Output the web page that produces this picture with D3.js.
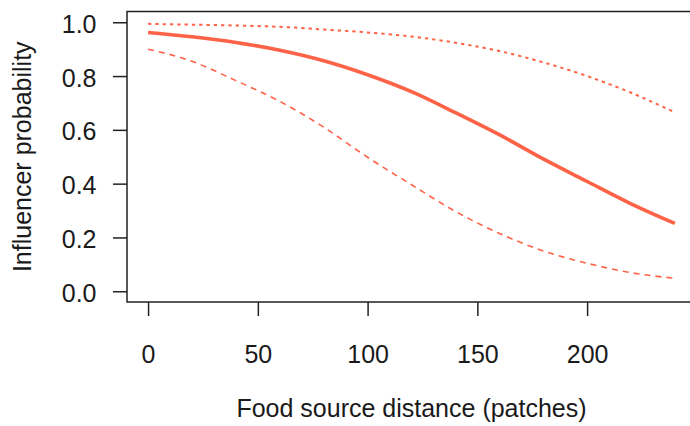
<!DOCTYPE html>
<html>
<head>
<meta charset="utf-8">
<script src="https://cdn.jsdelivr.net/npm/d3@7"></script>
<style>
  html, body { margin: 0; padding: 0; background: #fff; overflow: hidden; }
  svg { display: block; font-family: "Liberation Sans", Arial, sans-serif; }
</style>
</head>
<body>
<script>
// Food source distance (patches)
const distance = [0, 20, 40, 60, 80, 100, 120, 140, 160, 180, 200, 220, 240];
// fitted influencer probability
const fitted = [0.962, 0.946, 0.925, 0.896, 0.857, 0.805, 0.742, 0.664, 0.582, 0.492, 0.408, 0.325, 0.252];
// upper and lower confidence bands
const upper = [0.994, 0.991, 0.988, 0.983, 0.973, 0.962, 0.947, 0.924, 0.893, 0.851, 0.800, 0.738, 0.665];
const lower = [0.900, 0.855, 0.783, 0.706, 0.610, 0.498, 0.396, 0.297, 0.215, 0.150, 0.104, 0.069, 0.048];

const xTicks = [0, 50, 100, 150, 200];
const yTicks = [0, 0.2, 0.4, 0.6, 0.8, 1.0];

const WIDTH = 690, HEIGHT = 426;
const LEFT = 127, TOP = 11.5, BOTTOM = 302;
const LINE_COLOR = '#ff6347';
const TEXT_COLOR = '#1a1a1a';
const FONT_SIZE = 25;

let svg = d3.select('body').append('svg')
    .attr('width', WIDTH)
    .attr('height', HEIGHT);

// R pads the data range by 4% on each side
let xPad = 0.04 * (d3.max(distance) - d3.min(distance));
let xScale = d3.scaleLinear()
    .domain([d3.min(distance) - xPad, d3.max(distance) + xPad])
    .range([LEFT, LEFT + 569]);

let yScale = d3.scaleLinear()
    .domain([-0.04, 1.04])
    .range([BOTTOM, TOP]);

const RIGHT = xScale.range()[1];

let rows = distance.map(function(d, i) {
  return { d: d, fit: fitted[i], hi: upper[i], lo: lower[i] };
});

function lineFor(key) {
  return d3.line()
      .x(function(r) { return xScale(r.d); })
      .y(function(r) { return yScale(r[key]); })
      .curve(d3.curveMonotoneX);
}

svg.append('path')
    .attr('fill', 'none')
    .attr('d', lineFor('hi')(rows))
    .attr('stroke', LINE_COLOR)
    .attr('stroke-width', 2)
    .attr('stroke-dasharray', '3.3,4');

svg.append('path')
    .attr('fill', 'none')
    .attr('d', lineFor('lo')(rows))
    .attr('stroke', LINE_COLOR)
    .attr('stroke-width', 1.6)
    .attr('stroke-dasharray', '6,5');

svg.append('path')
    .attr('fill', 'none')
    .attr('d', lineFor('fit')(rows))
    .attr('stroke', LINE_COLOR)
    .attr('stroke-width', 3.6)
    .attr('stroke-linejoin', 'round');

// axes
let xAxis = svg.append('g')
    .attr('transform', 'translate(0,' + BOTTOM + ')')
    .call(d3.axisBottom(xScale).tickValues(xTicks).tickSize(14).tickFormat(d3.format('d')));

let yAxis = svg.append('g')
    .attr('transform', 'translate(' + LEFT + ',0)')
    .call(d3.axisLeft(yScale).tickValues(yTicks).tickSize(14).tickFormat(d3.format('.1f')));

[xAxis, yAxis].forEach(function(g) {
  g.select('.domain').remove();
  g.attr('font-family', null).attr('font-size', FONT_SIZE);
  g.selectAll('.tick line').attr('stroke', '#222').attr('stroke-width', 1.5);
  g.selectAll('.tick text').attr('fill', TEXT_COLOR).attr('x', null).attr('y', null).attr('dy', null);
});

xAxis.selectAll('.tick text').attr('y', 61);
yAxis.selectAll('.tick text').attr('x', -30.5).attr('y', 10);

// box round the plot region
svg.append('rect')
    .attr('x', LEFT)
    .attr('y', TOP)
    .attr('width', RIGHT - LEFT)
    .attr('height', BOTTOM - TOP)
    .attr('fill', 'none')
    .attr('stroke', '#222')
    .attr('stroke-width', 1.5);

// axis titles
svg.append('text')
    .attr('x', (LEFT + RIGHT) / 2)
    .attr('y', 417)
    .attr('text-anchor', 'middle')
    .attr('font-size', FONT_SIZE)
    .attr('fill', TEXT_COLOR)
    .text('Food source distance (patches)');

svg.append('text')
    .attr('transform', 'translate(31,' + ((TOP + BOTTOM) / 2) + ') rotate(-90)')
    .attr('text-anchor', 'middle')
    .attr('font-size', FONT_SIZE)
    .attr('fill', TEXT_COLOR)
    .text('Influencer probability');
</script>
</body>
</html>
